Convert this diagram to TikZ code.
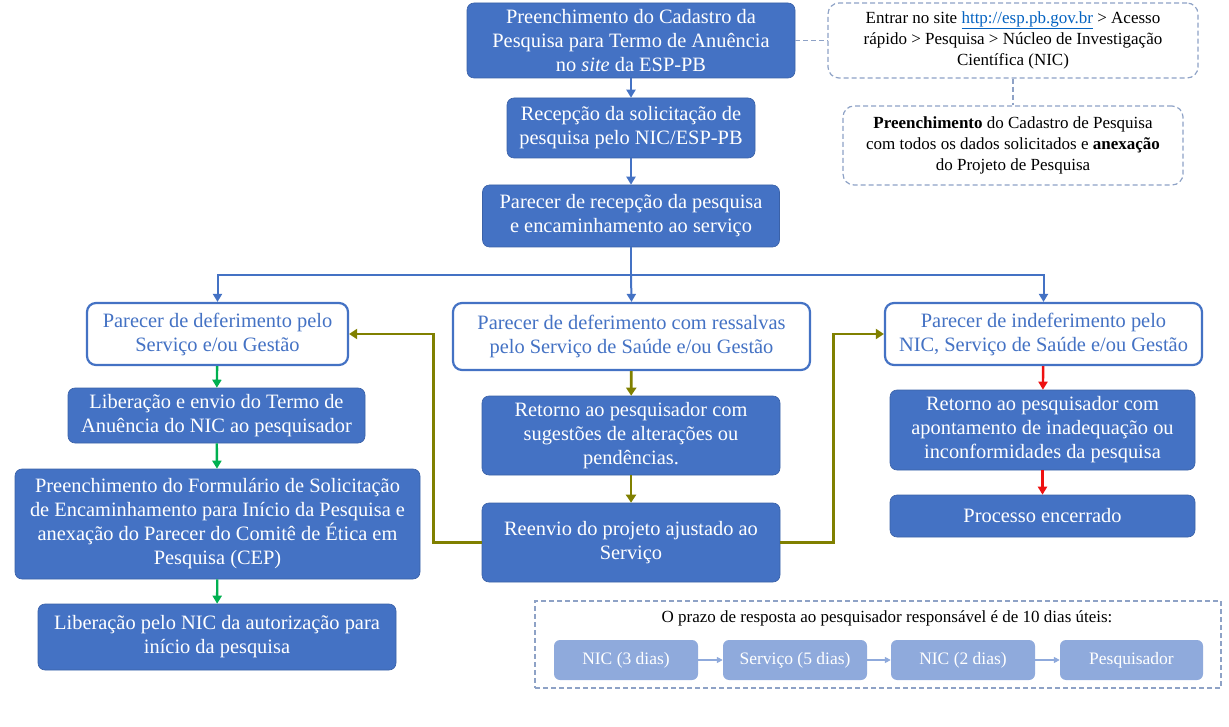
\documentclass[tikz,border=0pt]{standalone}
\usepackage{fontspec}
\setmainfont{Liberation Serif}
\usetikzlibrary{positioning,arrows.meta}
\definecolor{boxc}{HTML}{4472C4}
\definecolor{lightc}{HTML}{8FAADC}
\definecolor{dashc}{HTML}{8EA2C6}
\definecolor{linkc}{HTML}{0563C1}
\definecolor{okc}{HTML}{00B050}
\definecolor{revc}{HTML}{808000}
\definecolor{noc}{HTML}{EE1111}
\newcommand{\bigtxt}{\fontsize{20.4}{24}\selectfont}
\newcommand{\notetxt}{\fontsize{17}{21}\selectfont}
\tikzset{
  stepbox/.style={rectangle,rounded corners=7pt,fill=boxc,draw=boxc!85!black,line width=0.6pt,text=white,align=center,inner sep=0pt,font=\bigtxt},
  outbox/.style={rectangle,rounded corners=9pt,fill=white,draw=boxc,line width=2.2pt,text=boxc,align=center,inner sep=0pt,font=\bigtxt},
  notebox/.style={rectangle,rounded corners=11pt,draw=dashc,dash pattern=on 5pt off 3pt,line width=1.2pt,align=center,inner sep=0pt,font=\notetxt},
  daybox/.style={rectangle,rounded corners=6pt,fill=lightc,text=white,inner sep=0pt,minimum height=40pt,font=\fontsize{17.5}{21}\selectfont},
  flow/.style={-{Triangle[length=8pt,width=9pt]},line width=2pt,boxc},
  okflow/.style={-{Triangle[length=8pt,width=9pt]},line width=2.4pt,okc},
  revflow/.style={-{Triangle[length=8pt,width=10pt]},line width=2.8pt,revc},
  noflow/.style={-{Triangle[length=8pt,width=9pt]},line width=2.4pt,noc},
  dayflow/.style={-{Triangle[length=6pt,width=6pt]},line width=1.6pt,lightc},
  noteline/.style={dash pattern=on 5pt off 3pt,line width=1.2pt,dashc},
}
\begin{document}
\begin{tikzpicture}[x=1pt,y=-1pt]
  \useasboundingbox (0,0) rectangle (1229,727);
  % main trunk
  \node[stepbox,minimum width=328pt,minimum height=75pt] (cad) at (631,40.5)
    {Preenchimento do Cadastro da\\Pesquisa para Termo de Anuência\\no \textit{site} da ESP-PB};
  \node[stepbox,minimum width=248pt,minimum height=60pt] (rec) at (631,128)
    {Recepção da solicitação de\\pesquisa pelo NIC/ESP-PB};
  \node[stepbox,minimum width=297pt,minimum height=62pt] (par) at (631,216)
    {Parecer de recepção da pesquisa\\e encaminhamento ao serviço};
  % notes on the site
  \node[notebox,minimum width=370pt,minimum height=75pt] (site) at (1013,40.5)
    {Entrar no site \textcolor{linkc}{\underline{http://esp.pb.gov.br}} > Acesso\\rápido > Pesquisa > Núcleo de Investigação\\Científica (NIC)};
  \node[notebox,minimum width=340pt,minimum height=79pt] (fill) at (1013,145.5)
    {\textbf{Preenchimento} do Cadastro de Pesquisa\\com todos os dados solicitados e \textbf{anexação}\\do Projeto de Pesquisa};
  % three outcomes
  \node[outbox,minimum width=261pt,minimum height=62pt] (def) at (217.5,334)
    {Parecer de deferimento pelo\\Serviço e/ou Gestão};
  \node[outbox,minimum width=357pt,minimum height=67pt] (ress) at (631.5,336.5)
    {Parecer de deferimento com ressalvas\\pelo Serviço de Saúde e/ou Gestão};
  \node[outbox,minimum width=317pt,minimum height=62pt] (indef) at (1043.5,334)
    {Parecer de indeferimento pelo\\NIC, Serviço de Saúde e/ou Gestão};
  % approved
  \node[stepbox,minimum width=297pt,minimum height=55pt] (lib) at (216.5,415.5)
    {Liberação e envio do Termo de\\Anuência do NIC ao pesquisador};
  \node[stepbox,minimum width=405pt,minimum height=110pt] (form) at (217.5,524)
    {Preenchimento do Formulário de Solicitação\\de Encaminhamento para Início da Pesquisa e\\anexação do Parecer do Comitê de Ética em\\Pesquisa (CEP)};
  \node[stepbox,minimum width=358pt,minimum height=66pt] (aut) at (217,637)
    {Liberação pelo NIC da autorização para\\início da pesquisa};
  % with changes
  \node[stepbox,minimum width=298pt,minimum height=79pt] (sug) at (631,435.5)
    {Retorno ao pesquisador com\\sugestões de alterações ou\\pendências.};
  \node[stepbox,minimum width=298pt,minimum height=79pt] (reen) at (631,542.5)
    {Reenvio do projeto ajustado ao\\Serviço};
  % rejected
  \node[stepbox,minimum width=305pt,minimum height=80pt] (inad) at (1042.5,430)
    {Retorno ao pesquisador com\\apontamento de inadequação ou\\inconformidades da pesquisa};
  \node[stepbox,minimum width=305pt,minimum height=42pt] (fim) at (1042.5,516)
    {Processo encerrado};
  % deadlines
  \node[draw=dashc,dash pattern=on 5pt off 3pt,line width=1.2pt,minimum width=686pt,minimum height=87pt,inner sep=0pt] (prazo) at (878,644.5) {};
  \node[font=\notetxt] (prazot) at (887,618)
    {O prazo de resposta ao pesquisador responsável é de 10 dias úteis:};
  \node[daybox,minimum width=144pt] (d1) at (626,660) {NIC (3 dias)};
  \node[daybox,minimum width=144pt] (d2) at (795,660) {Serviço (5 dias)};
  \node[daybox,minimum width=144pt] (d3) at (963,660) {NIC (2 dias)};
  \node[daybox,minimum width=143pt] (d4) at (1131.5,660) {Pesquisador};

  \coordinate (split) at (631,275);
  \draw[flow] (cad) -- (rec);
  \draw[flow] (rec) -- (par);
  \draw[line width=2pt,boxc] (par.south) -- (split);
  \draw[flow] (split) -| (def.north);
  \draw[flow] (split) -- (ress.north);
  \draw[flow] (split) -| (indef.north);
  \draw[noteline] (cad.east) -- (site.west);
  \draw[noteline] (site.south) -- (fill.north);
  \draw[okflow] (def) -- (lib);
  \draw[okflow] (lib) -- (form);
  \draw[okflow] (form) -- (aut);
  \draw[revflow] (ress) -- (sug);
  \draw[revflow] (sug) -- (reen);
  \draw[revflow] (reen.west) -- ++(-48,0) |- (def.east);
  \draw[revflow] (reen.east) -- ++(53,0) |- (indef.west);
  \draw[noflow] (indef) -- (inad);
  \draw[noflow] (inad) -- (fim);
  \draw[dayflow] (d1) -- (d2);
  \draw[dayflow] (d2) -- (d3);
  \draw[dayflow] (d3) -- (d4);
\end{tikzpicture}
\end{document}
